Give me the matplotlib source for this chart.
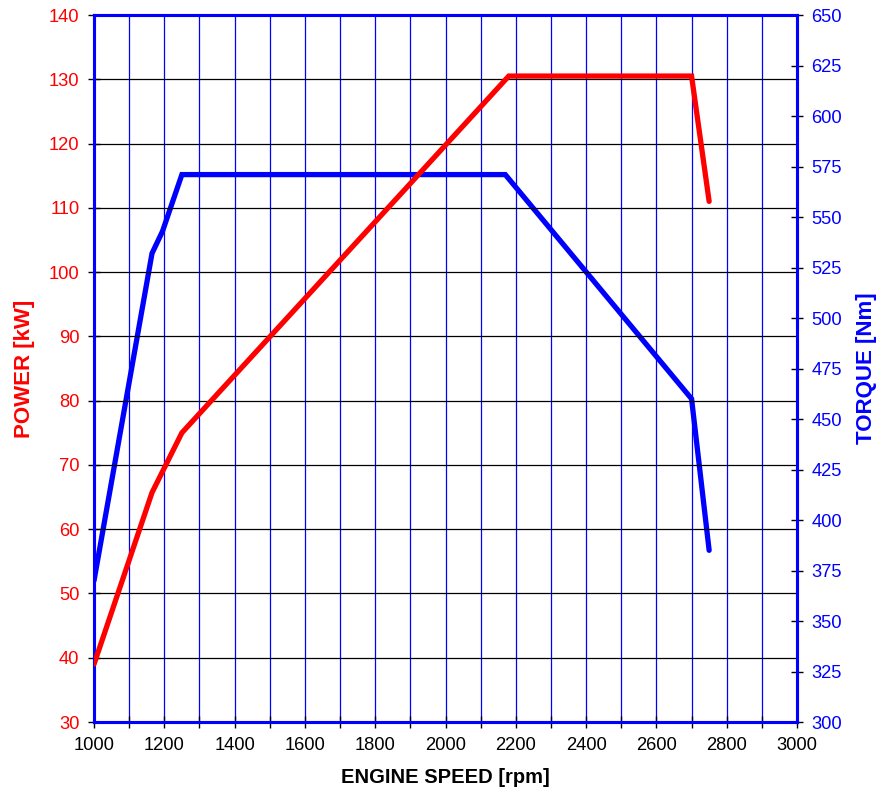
import numpy as np
import matplotlib.pyplot as plt
from matplotlib.ticker import MultipleLocator

plt.rcParams['font.family'] = ['Liberation Sans', 'DejaVu Sans']

# engine speed [rpm] / power [kW]
power_rpm = [1000, 1165, 1250, 2180, 2700, 2750]
power_kw = [39.0, 65.7, 75.0, 130.5, 130.5, 111.0]

# engine speed [rpm] / torque [Nm]
torque_rpm = [1000, 1165, 1195, 1250, 2170, 2700, 2750]
torque_nm = [370, 532, 543, 571, 571, 460, 385]

fig = plt.figure(figsize=(8.77, 7.98), dpi=100)
ax = fig.add_axes([0.1072, 0.0952, 0.8016, 0.886])
ax2 = ax.twinx()

ax.set_xlim(1000, 3000)
ax.set_ylim(30, 140)
ax2.set_ylim(300, 650)

ax.xaxis.set_major_locator(MultipleLocator(200))
ax.xaxis.set_minor_locator(MultipleLocator(100))
ax.yaxis.set_major_locator(MultipleLocator(10))
ax2.yaxis.set_major_locator(MultipleLocator(25))

# grid: blue verticals every 100 rpm, black horizontals on power ticks
for x in np.arange(1100, 3000, 100):
    ax.axvline(x, color='#0000ff', lw=0.9, zorder=0)
for y in np.arange(40, 140, 10):
    ax.axhline(y, color='black', lw=0.9, zorder=0)

ax2.plot(torque_rpm, torque_nm, color='#0000ff', lw=3.8, solid_capstyle='round',
         solid_joinstyle='miter', zorder=3)
ax.plot(power_rpm, power_kw, color='#ff0000', lw=3.8, solid_capstyle='round',
        solid_joinstyle='miter', zorder=3)
ax.set_zorder(ax2.get_zorder() + 1)
ax.patch.set_visible(False)

for a in (ax, ax2):
    for s in a.spines.values():
        s.set_color('#0000ff')
        s.set_linewidth(2.2)

ax.tick_params(axis='x', which='both', direction='inout', length=8, width=1,
               color='black', labelsize=13.2, labelcolor='black', pad=7)
ax.tick_params(axis='y', direction='inout', length=9, width=1, color='black',
               labelsize=13.2, labelcolor='#ff0000', pad=6)
ax2.tick_params(axis='y', direction='inout', length=9, width=1, color='black',
                labelsize=13.2, labelcolor='#0000ff', pad=6)

ax.set_xlabel('ENGINE SPEED [rpm]', fontsize=14.5, fontweight='bold', labelpad=10)
ax.set_ylabel('POWER [kW]', fontsize=16, fontweight='bold', color='#ff0000', labelpad=10)
ax2.set_ylabel('TORQUE [Nm]', fontsize=16, fontweight='bold', color='#0000ff', labelpad=10)

fig.savefig('out.png', dpi=100)
